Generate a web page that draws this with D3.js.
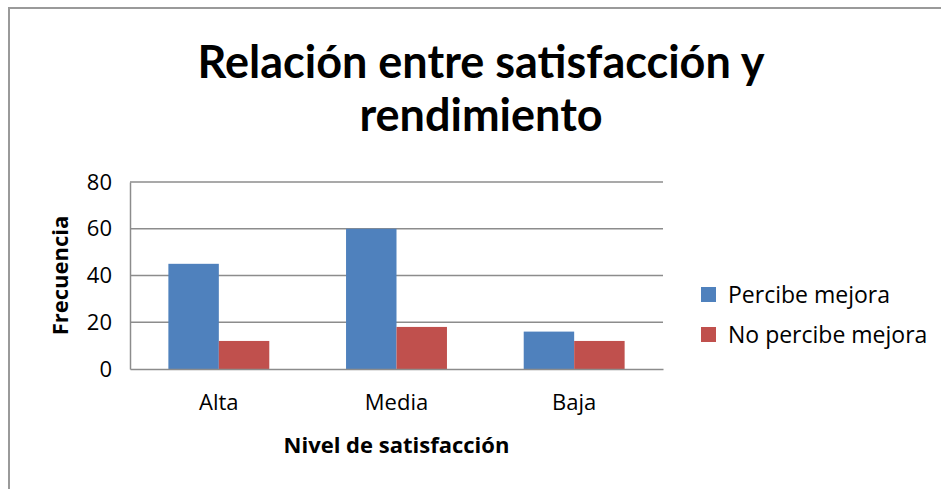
<!DOCTYPE html>
<html>
<head>
<meta charset="utf-8">
<script src="https://cdn.jsdelivr.net/npm/d3@7"></script>
<style>
    body { margin: 0; background: #fff; }
    svg text { font-family: "Open Sans", sans-serif; fill: #000; }
</style>
</head>
<body>
<div id="chart"></div>
<script>
// data
var categories = ["Alta", "Media", "Baja"];
var seriesNames = ["Percibe mejora", "No percibe mejora"];
var percibe = [45, 60, 16];
var noPercibe = [12, 18, 12];
var yTicks = [0, 20, 40, 60, 80];

var colors = ["#4F81BD", "#C0504D"];

var W = 941, H = 489;
var svg = d3.select("#chart").append("svg")
    .attr("width", W)
    .attr("height", H);

// outer frame (only top and left edges show in the crop)
svg.append("path")
    .attr("d", "M9,489 V8 H941")
    .attr("fill", "none")
    .attr("stroke", "#9a9a9a")
    .attr("stroke-width", 2);

var margin = {top: 182, left: 130, right: 278, bottom: 120};
var width = W - margin.left - margin.right,
    height = H - margin.top - margin.bottom;

var g = svg.append("g").attr("transform", "translate(" + margin.left + "," + margin.top + ")");

var x0 = d3.scaleBand()
    .domain(categories)
    .range([0, width])
    .paddingInner(0)
    .paddingOuter(0);

var groupW = x0.bandwidth() * 0.568;
var x1 = d3.scaleBand()
    .domain(seriesNames)
    .range([0, groupW]);

var y = d3.scaleLinear()
    .domain([0, 80])
    .range([height, 0]);

// grid lines
g.selectAll(".grid")
    .data(yTicks.slice(1))
    .enter().append("line")
    .attr("class", "grid")
    .attr("x1", 0)
    .attr("x2", width)
    .attr("y1", function (d) { return y(d); })
    .attr("y2", function (d) { return y(d); })
    .attr("stroke", "#8c8c8c")
    .attr("stroke-width", 1.5);

var rows = categories.map(function (c, i) {
    return {cat: c, values: [percibe[i], noPercibe[i]]};
});

g.selectAll(".cat")
    .data(rows)
    .enter().append("g")
    .attr("class", "cat")
    .attr("transform", function (d) {
        return "translate(" + (x0(d.cat) + (x0.bandwidth() - groupW) / 2) + ",0)";
    })
    .selectAll("rect")
    .data(function (d) {
        return d.values.map(function (v, j) { return {key: seriesNames[j], value: v, j: j}; });
    })
    .enter().append("rect")
    .attr("x", function (d) { return x1(d.key); })
    .attr("y", function (d) { return y(d.value); })
    .attr("width", x1.bandwidth())
    .attr("height", function (d) { return height - y(d.value); })
    .attr("fill", function (d) { return colors[d.j]; });

// y axis
var yAxis = g.append("g")
    .call(d3.axisLeft(y).tickValues(yTicks).tickSize(0).tickPadding(18));
yAxis.select(".domain").attr("stroke", "#8c8c8c").attr("stroke-width", 1.5);
yAxis.selectAll("text").style("font-size", "22px").attr("fill", "#000");

// x axis
var xAxis = g.append("g")
    .attr("transform", "translate(0," + height + ")")
    .call(d3.axisBottom(x0).tickSize(0).tickPadding(25));
xAxis.select(".domain").attr("stroke", "#8c8c8c").attr("stroke-width", 1.5);
xAxis.selectAll("text").style("font-size", "22px").attr("fill", "#000");

// axis titles
svg.append("text")
    .attr("x", margin.left + width / 2)
    .attr("y", 453)
    .attr("text-anchor", "middle")
    .style("font-size", "22px")
    .style("font-weight", "bold")
    .text("Nivel de satisfacción");

svg.append("text")
    .attr("transform", "translate(68," + (margin.top + height / 2) + ") rotate(-90)")
    .attr("text-anchor", "middle")
    .style("font-size", "22px")
    .style("font-weight", "bold")
    .text("Frecuencia");

// title
var title = svg.append("text")
    .attr("text-anchor", "middle")
    .style("font-family", "Lato, sans-serif")
    .style("font-size", "45px")
    .style("font-weight", "bold");
title.append("tspan").attr("x", 481).attr("y", 78).text("Relación entre satisfacción y");
title.append("tspan").attr("x", 481).attr("y", 131).text("rendimiento");

// legend
var legend = svg.selectAll(".legend")
    .data(seriesNames)
    .enter().append("g")
    .attr("class", "legend")
    .attr("transform", function (d, i) { return "translate(701," + (287 + i * 40) + ")"; });

legend.append("rect")
    .attr("width", 15)
    .attr("height", 15)
    .attr("fill", function (d, i) { return colors[i]; });

legend.append("text")
    .attr("x", 27)
    .attr("y", 8)
    .attr("dy", "0.35em")
    .style("font-size", "23px")
    .text(function (d) { return d; });
</script>
</body>
</html>
